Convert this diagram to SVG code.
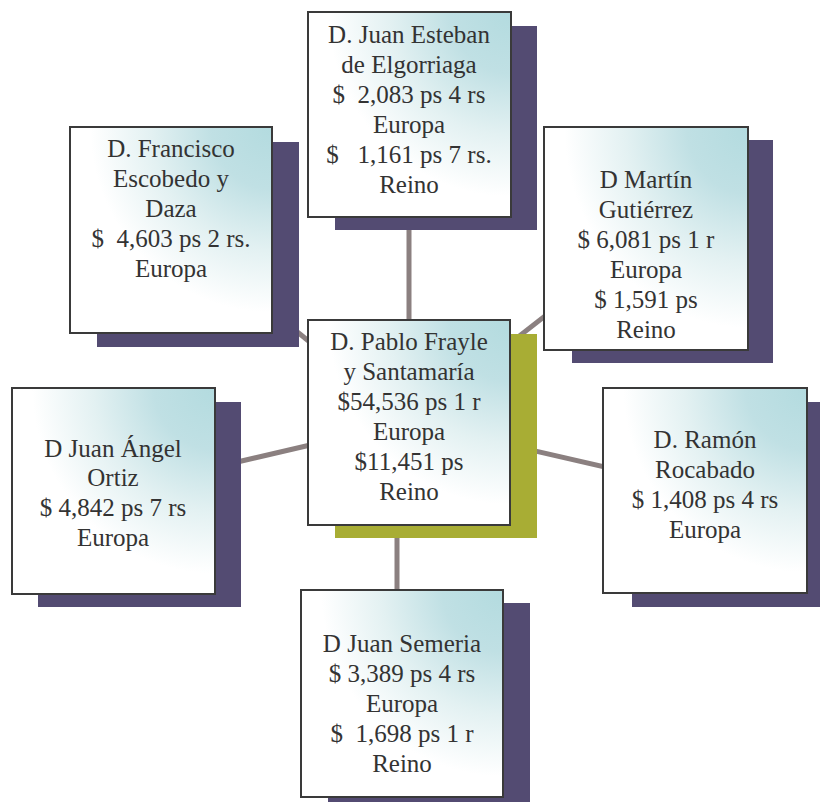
<svg xmlns="http://www.w3.org/2000/svg" width="820" height="802" viewBox="0 0 820 802">
<defs>
<radialGradient id="g" cx="1" cy="0" r="1" fx="1" fy="0">
<stop offset="0" stop-color="#b3dbdf"/>
<stop offset="0.3" stop-color="#c0e0e4"/>
<stop offset="0.6" stop-color="#e3f1f2"/>
<stop offset="0.9" stop-color="#ffffff"/>
<stop offset="1" stop-color="#ffffff"/>
</radialGradient>
<style>
.sh{fill:#534b72}
.shc{fill:#a8ad34}
.bx{fill:url(#g);stroke:#3a3a3a;stroke-width:2}
.t{font-family:"Liberation Serif","Times New Roman",serif;font-size:25px;fill:#333;text-anchor:middle;white-space:pre}
.c{stroke:#8b8080;stroke-width:5;fill:none}
</style>
</defs>
<rect width="820" height="802" fill="#fff"/>
<g id="connectors">
<line class="c" x1="409" y1="422" x2="409" y2="114"/>
<line class="c" x1="397" y1="422" x2="397" y2="693"/>
<line class="c" x1="409" y1="422" x2="113" y2="491"/>
<line class="c" x1="409" y1="422" x2="705" y2="490"/>
<line class="c" x1="409" y1="422" x2="171" y2="230"/>
<line class="c" x1="409" y1="422" x2="645" y2="238"/>
</g>
<g id="n-top">
<rect class="sh" x="335" y="26" width="202" height="204"/>
<rect class="bx" x="308" y="12" width="203" height="205"/>
<text class="t" xml:space="preserve"><tspan x="409" y="43">D. Juan Esteban</tspan><tspan x="409" y="73">de Elgorriaga</tspan><tspan x="409" y="103">$  2,083 ps 4 rs</tspan><tspan x="409" y="133">Europa</tspan><tspan x="409" y="163">$   1,161 ps 7 rs.</tspan><tspan x="409" y="193">Reino</tspan></text>
</g>
<g id="n-francisco">
<rect class="sh" x="97" y="142" width="202" height="205"/>
<rect class="bx" x="70" y="127" width="202" height="206"/>
<text class="t" xml:space="preserve"><tspan x="171" y="157">D. Francisco</tspan><tspan x="171" y="187">Escobedo y</tspan><tspan x="171" y="217">Daza</tspan><tspan x="171" y="247">$  4,603 ps 2 rs.</tspan><tspan x="171" y="277">Europa</tspan></text>
</g>
<g id="n-martin">
<rect class="sh" x="572" y="140" width="201" height="223"/>
<rect class="bx" x="544" y="127" width="204" height="223"/>
<text class="t" xml:space="preserve"><tspan x="646" y="188">D Martín</tspan><tspan x="646" y="218">Gutiérrez</tspan><tspan x="646" y="248">$ 6,081 ps 1 r</tspan><tspan x="646" y="278">Europa</tspan><tspan x="646" y="308">$ 1,591 ps</tspan><tspan x="646" y="338">Reino</tspan></text>
</g>
<g id="n-angel">
<rect class="sh" x="38" y="402" width="203" height="205"/>
<rect class="bx" x="12" y="388" width="203" height="206"/>
<text class="t" xml:space="preserve"><tspan x="113" y="457">D Juan Ángel</tspan><tspan x="113" y="486">Ortiz</tspan><tspan x="113" y="516">$ 4,842 ps 7 rs</tspan><tspan x="113" y="546">Europa</tspan></text>
</g>
<g id="n-ramon">
<rect class="sh" x="632" y="402" width="190" height="205"/>
<rect class="bx" x="603" y="388" width="204" height="205"/>
<text class="t" xml:space="preserve"><tspan x="705" y="448">D. Ramón</tspan><tspan x="705" y="478">Rocabado</tspan><tspan x="705" y="508">$ 1,408 ps 4 rs</tspan><tspan x="705" y="538">Europa</tspan></text>
</g>
<g id="n-semeria">
<rect class="sh" x="328" y="603" width="202" height="202"/>
<rect class="bx" x="301" y="590" width="202" height="207"/>
<text class="t" xml:space="preserve"><tspan x="402" y="652">D Juan Semeria</tspan><tspan x="402" y="682">$ 3,389 ps 4 rs</tspan><tspan x="402" y="712">Europa</tspan><tspan x="402" y="742">$  1,698 ps 1 r</tspan><tspan x="402" y="772">Reino</tspan></text>
</g>
<g id="n-center">
<rect class="shc" x="335" y="334" width="202" height="204"/>
<rect class="bx" x="308" y="320" width="202" height="205"/>
<text class="t" xml:space="preserve"><tspan x="409" y="350">D. Pablo Frayle</tspan><tspan x="409" y="380">y Santamaría</tspan><tspan x="409" y="410">$54,536 ps 1 r</tspan><tspan x="409" y="440">Europa</tspan><tspan x="409" y="470">$11,451 ps</tspan><tspan x="409" y="500">Reino</tspan></text>
</g>
</svg>
